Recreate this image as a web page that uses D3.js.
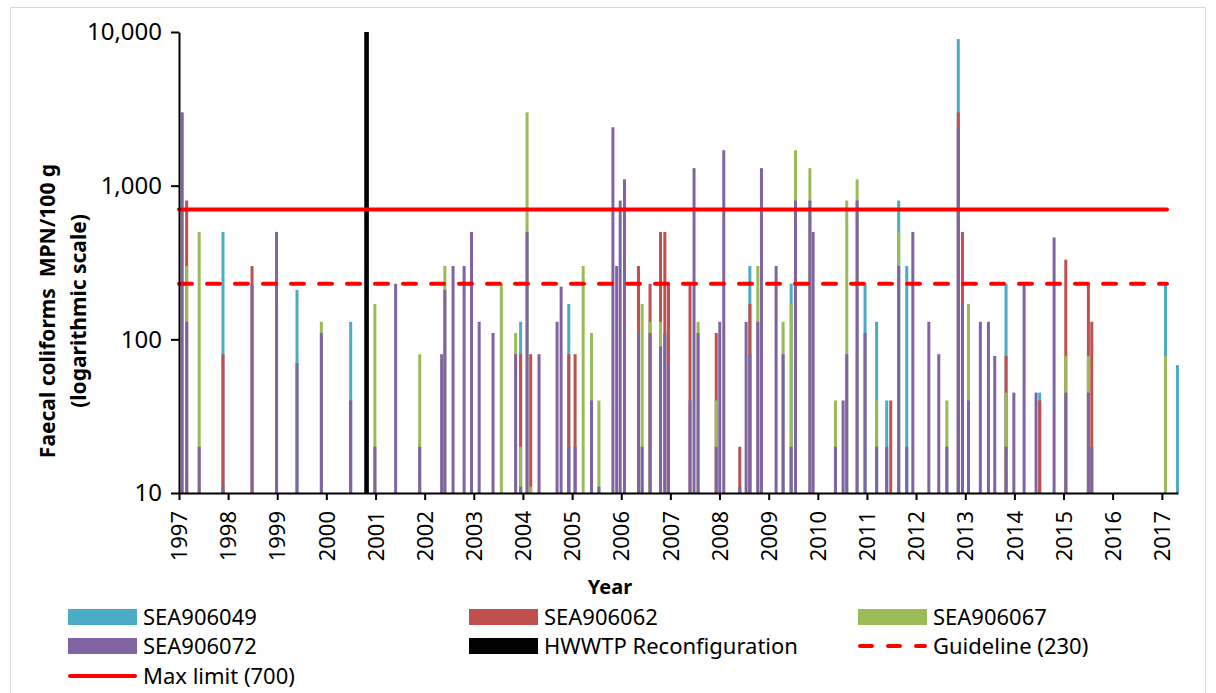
<!DOCTYPE html>
<html>
<head>
<meta charset="utf-8">
<script src="https://cdn.jsdelivr.net/npm/d3@7"></script>
<style>
  body { margin: 0; background: #fff; }
  text { font-family: "Noto Sans", "Open Sans", sans-serif; fill: #000; }
</style>
</head>
<body>
<svg id="chart" width="1216" height="693"></svg>
<script>
// sampling dates
const dates = [
  "1997-01-25","1997-02-27","1997-05-31","1997-11-24","1998-06-28","1998-12-27","1999-05-28","1999-11-25","2000-06-30","2000-12-27",
  "2001-05-30","2001-11-25","2002-05-07","2002-05-31","2002-07-31","2002-10-21","2002-12-15","2003-02-10","2003-05-24","2003-07-25",
  "2003-11-08","2003-12-15","2004-02-01","2004-02-28","2004-04-30","2004-09-11","2004-10-11","2004-12-07","2005-01-23","2005-03-24",
  "2005-05-25","2005-07-19","2005-10-31","2005-11-28","2005-12-24","2006-01-25","2006-05-09","2006-06-05","2006-08-03","2006-10-20",
  "2006-11-21","2006-12-18","2007-05-27","2007-06-26","2007-07-26","2007-12-08","2008-01-03","2008-02-02","2008-05-31","2008-07-17",
  "2008-08-14","2008-10-12","2008-11-08","2009-02-25","2009-04-18","2009-06-17","2009-07-19","2009-11-03","2009-11-27","2010-05-12",
  "2010-07-08","2010-08-04","2010-10-20","2010-12-18","2011-03-14","2011-05-28","2011-06-27","2011-08-25","2011-10-24","2011-12-08",
  "2012-04-05","2012-06-18","2012-08-17","2012-11-10","2012-12-11","2013-01-25","2013-04-23","2013-06-22","2013-08-08","2013-10-31",
  "2013-12-28","2014-03-14","2014-06-11","2014-07-08","2014-10-23","2015-01-18","2015-07-05","2015-07-30","2017-01-28","2017-04-27"
]

const sea049 = [
  null,null,null,500,null,null,210,null,130,null,
  null,null,null,null,null,null,null,null,null,null,
  null,130,null,null,null,null,null,170,null,null,
  null,null,null,null,null,null,null,null,null,null,
  null,null,null,null,null,null,null,null,null,null,
  300,null,null,null,null,230,null,null,null,null,
  null,null,null,230,130,40,null,800,300,null,
  null,null,null,9000,null,null,null,null,null,230,
  null,null,null,45,null,null,null,null,230,68
]
const sea062 = [
  null,800,null,80,300,null,null,null,null,null,
  null,null,null,null,null,null,null,null,null,null,
  null,80,null,80,null,null,null,80,80,null,
  null,null,null,null,null,null,300,null,230,500,
  500,230,230,null,null,110,null,null,20,null,
  170,null,null,null,null,null,null,null,null,null,
  null,null,null,null,null,null,40,null,null,null,
  null,null,null,3000,500,null,null,null,null,78,
  null,null,null,40,null,330,230,130,null,null
]
const sea067 = [
  null,300,500,null,null,170,null,130,null,170,
  null,80,null,300,null,null,null,null,null,230,
  110,20,3000,11,null,null,null,null,null,300,
  110,40,null,null,null,null,null,170,130,130,
  null,null,null,null,130,40,null,null,null,null,
  null,300,null,null,130,170,1700,1300,null,40,
  null,800,1100,null,40,null,null,500,null,null,
  null,null,40,null,null,170,null,null,null,45,
  null,null,null,null,null,78,78,null,78,null
]
const sea072 = [
  3000,130,20,11,230,500,70,110,40,20,
  230,20,80,210,300,300,500,130,110,null,
  80,11,500,null,80,130,220,20,20,null,
  40,11,2400,300,800,1100,110,20,110,90,
  110,70,40,1300,110,20,130,1700,11,130,
  80,130,1300,300,80,20,800,800,500,20,
  40,80,800,110,20,20,null,300,20,500,
  130,80,20,2400,170,40,130,130,78,20,
  45,230,45,null,460,45,45,20,null,null
]

const seriesNames = ["SEA906049", "SEA906062", "SEA906067", "SEA906072"]
const seriesColors = ["#4bacc6", "#c0504d", "#9bbb59", "#8064a2"]
const seriesValues = [sea049, sea062, sea067, sea072]

const hwwtpDate = "2000-10-26"
const hwwtpValue = 10000
const maxLimit = 700
const guideline = 230
const limitDates = ["1997-01-01", "2017-02-08"]

const yTicks = [10, 100, 1000, 10000]
const years = d3.range(1997, 2018)

const parse = d3.timeParse("%Y-%m-%d")
const svg = d3.select("#chart")

// chart border
svg.append("rect")
  .attr("x", 10.5).attr("y", 7.5)
  .attr("width", 1195).attr("height", 700)
  .attr("fill", "none").attr("stroke", "#d9d9d9")

const x = d3.scaleTime()
  .domain([parse("1997-01-01"), parse("2017-05-01")])
  .range([179, 1178])

const y = d3.scaleLog()
  .domain([10, 10000])
  .range([493, 32])

// bars, first series at the back
seriesValues.forEach(function(vals, i) {
  let rows = dates.map(function(d, j) { return { date: parse(d), v: vals[j] } })
    .filter(function(r) { return r.v != null })
  svg.append("g").selectAll("rect")
    .data(rows)
    .enter()
    .append("rect")
    .attr("x", function(d) { return x(d.date) - 1.5 })
    .attr("width", 3)
    .attr("y", function(d) { return y(d.v) })
    .attr("height", function(d) { return y(10) - y(d.v) })
    .attr("fill", seriesColors[i])
})

// HWWTP reconfiguration bar
svg.append("rect")
  .attr("x", x(parse(hwwtpDate)) - 2.3)
  .attr("width", 4.6)
  .attr("y", y(hwwtpValue))
  .attr("height", y(10) - y(hwwtpValue))
  .attr("fill", "#000")

// limit lines
const limitLine = function(v) {
  return d3.line()
    .x(function(d) { return x(parse(d)) })
    .y(function() { return y(v) })(limitDates)
}
svg.append("path")
  .attr("d", limitLine(maxLimit))
  .attr("stroke", "#ff0000").attr("stroke-width", 4)
  .attr("fill", "none").attr("stroke-linecap", "round")
svg.append("path")
  .attr("d", limitLine(guideline))
  .attr("stroke", "#ff0000").attr("stroke-width", 4)
  .attr("stroke-dasharray", "13,15")
  .attr("fill", "none").attr("stroke-linecap", "round")

// axes
const xAxis = svg.append("g")
  .attr("transform", "translate(0,493)")
  .call(d3.axisBottom(x)
    .tickValues(years.map(function(yr) { return new Date(yr, 0, 1) }))
    .tickFormat(d3.timeFormat("%Y"))
    .tickSize(7)
    .tickSizeOuter(0))
xAxis.select(".domain").attr("stroke", "#000").attr("stroke-width", 2)
xAxis.selectAll(".tick line").attr("stroke", "#000").attr("stroke-width", 2)
xAxis.selectAll(".tick text")
  .attr("font-size", 22)
  .attr("font-family", "Noto Sans")
  .attr("transform", "rotate(-90)")
  .attr("x", -18)
  .attr("y", 0)
  .attr("dy", "0.35em")
  .attr("text-anchor", "end")

const yAxis = svg.append("g")
  .attr("transform", "translate(179,0)")
  .call(d3.axisLeft(y)
    .tickValues(yTicks)
    .tickFormat(d3.format(","))
    .tickSize(8)
    .tickSizeOuter(0))
yAxis.select(".domain").attr("stroke", "#000").attr("stroke-width", 2)
yAxis.selectAll(".tick line").attr("stroke", "#000").attr("stroke-width", 2)
yAxis.selectAll(".tick text")
  .attr("font-size", 24)
  .attr("font-family", "Noto Sans")
  .attr("x", -17)

// axis titles
svg.append("text")
  .attr("transform", "translate(55,311) rotate(-90)")
  .attr("text-anchor", "middle")
  .attr("font-size", 21).attr("font-weight", "bold")
  .style("white-space", "pre")
  .text("Faecal coliforms  MPN/100 g")
svg.append("text")
  .attr("transform", "translate(86,311) rotate(-90)")
  .attr("text-anchor", "middle")
  .attr("font-size", 21).attr("font-weight", "bold")
  .text("(logarithmic scale)")
svg.append("text")
  .attr("x", 610).attr("y", 594)
  .attr("text-anchor", "middle")
  .attr("font-size", 20).attr("font-weight", "bold")
  .text("Year")

// legend
const legendItems = [
  { name: seriesNames[0], type: "bar", color: seriesColors[0] },
  { name: seriesNames[1], type: "bar", color: seriesColors[1] },
  { name: seriesNames[2], type: "bar", color: seriesColors[2] },
  { name: seriesNames[3], type: "bar", color: seriesColors[3] },
  { name: "HWWTP Reconfiguration", type: "bar", color: "#000" },
  { name: "Guideline (230)", type: "dash", color: "#ff0000" },
  { name: "Max limit (700)", type: "line", color: "#ff0000" }
]
const legendCols = [68, 469, 858]
const legendRows = [617, 646, 676]

const legend = svg.append("g").selectAll("g")
  .data(legendItems)
  .enter()
  .append("g")
  .attr("transform", function(d, i) {
    return "translate(" + legendCols[i % 3] + "," + legendRows[Math.floor(i / 3)] + ")"
  })

legend.filter(function(d) { return d.type == "bar" })
  .append("rect")
  .attr("x", 0).attr("y", -8)
  .attr("width", 69).attr("height", 16)
  .attr("fill", function(d) { return d.color })
legend.filter(function(d) { return d.type != "bar" })
  .append("line")
  .attr("x1", 2).attr("x2", 67)
  .attr("y1", 0).attr("y2", 0)
  .attr("stroke", function(d) { return d.color })
  .attr("stroke-width", 4)
  .attr("stroke-linecap", "round")
  .attr("stroke-dasharray", function(d) { return d.type == "dash" ? "12,16" : null })

legend.append("text")
  .attr("x", 75).attr("y", 0)
  .attr("dy", "0.35em")
  .attr("font-size", 22)
  .text(function(d) { return d.name })
</script>
</body>
</html>
